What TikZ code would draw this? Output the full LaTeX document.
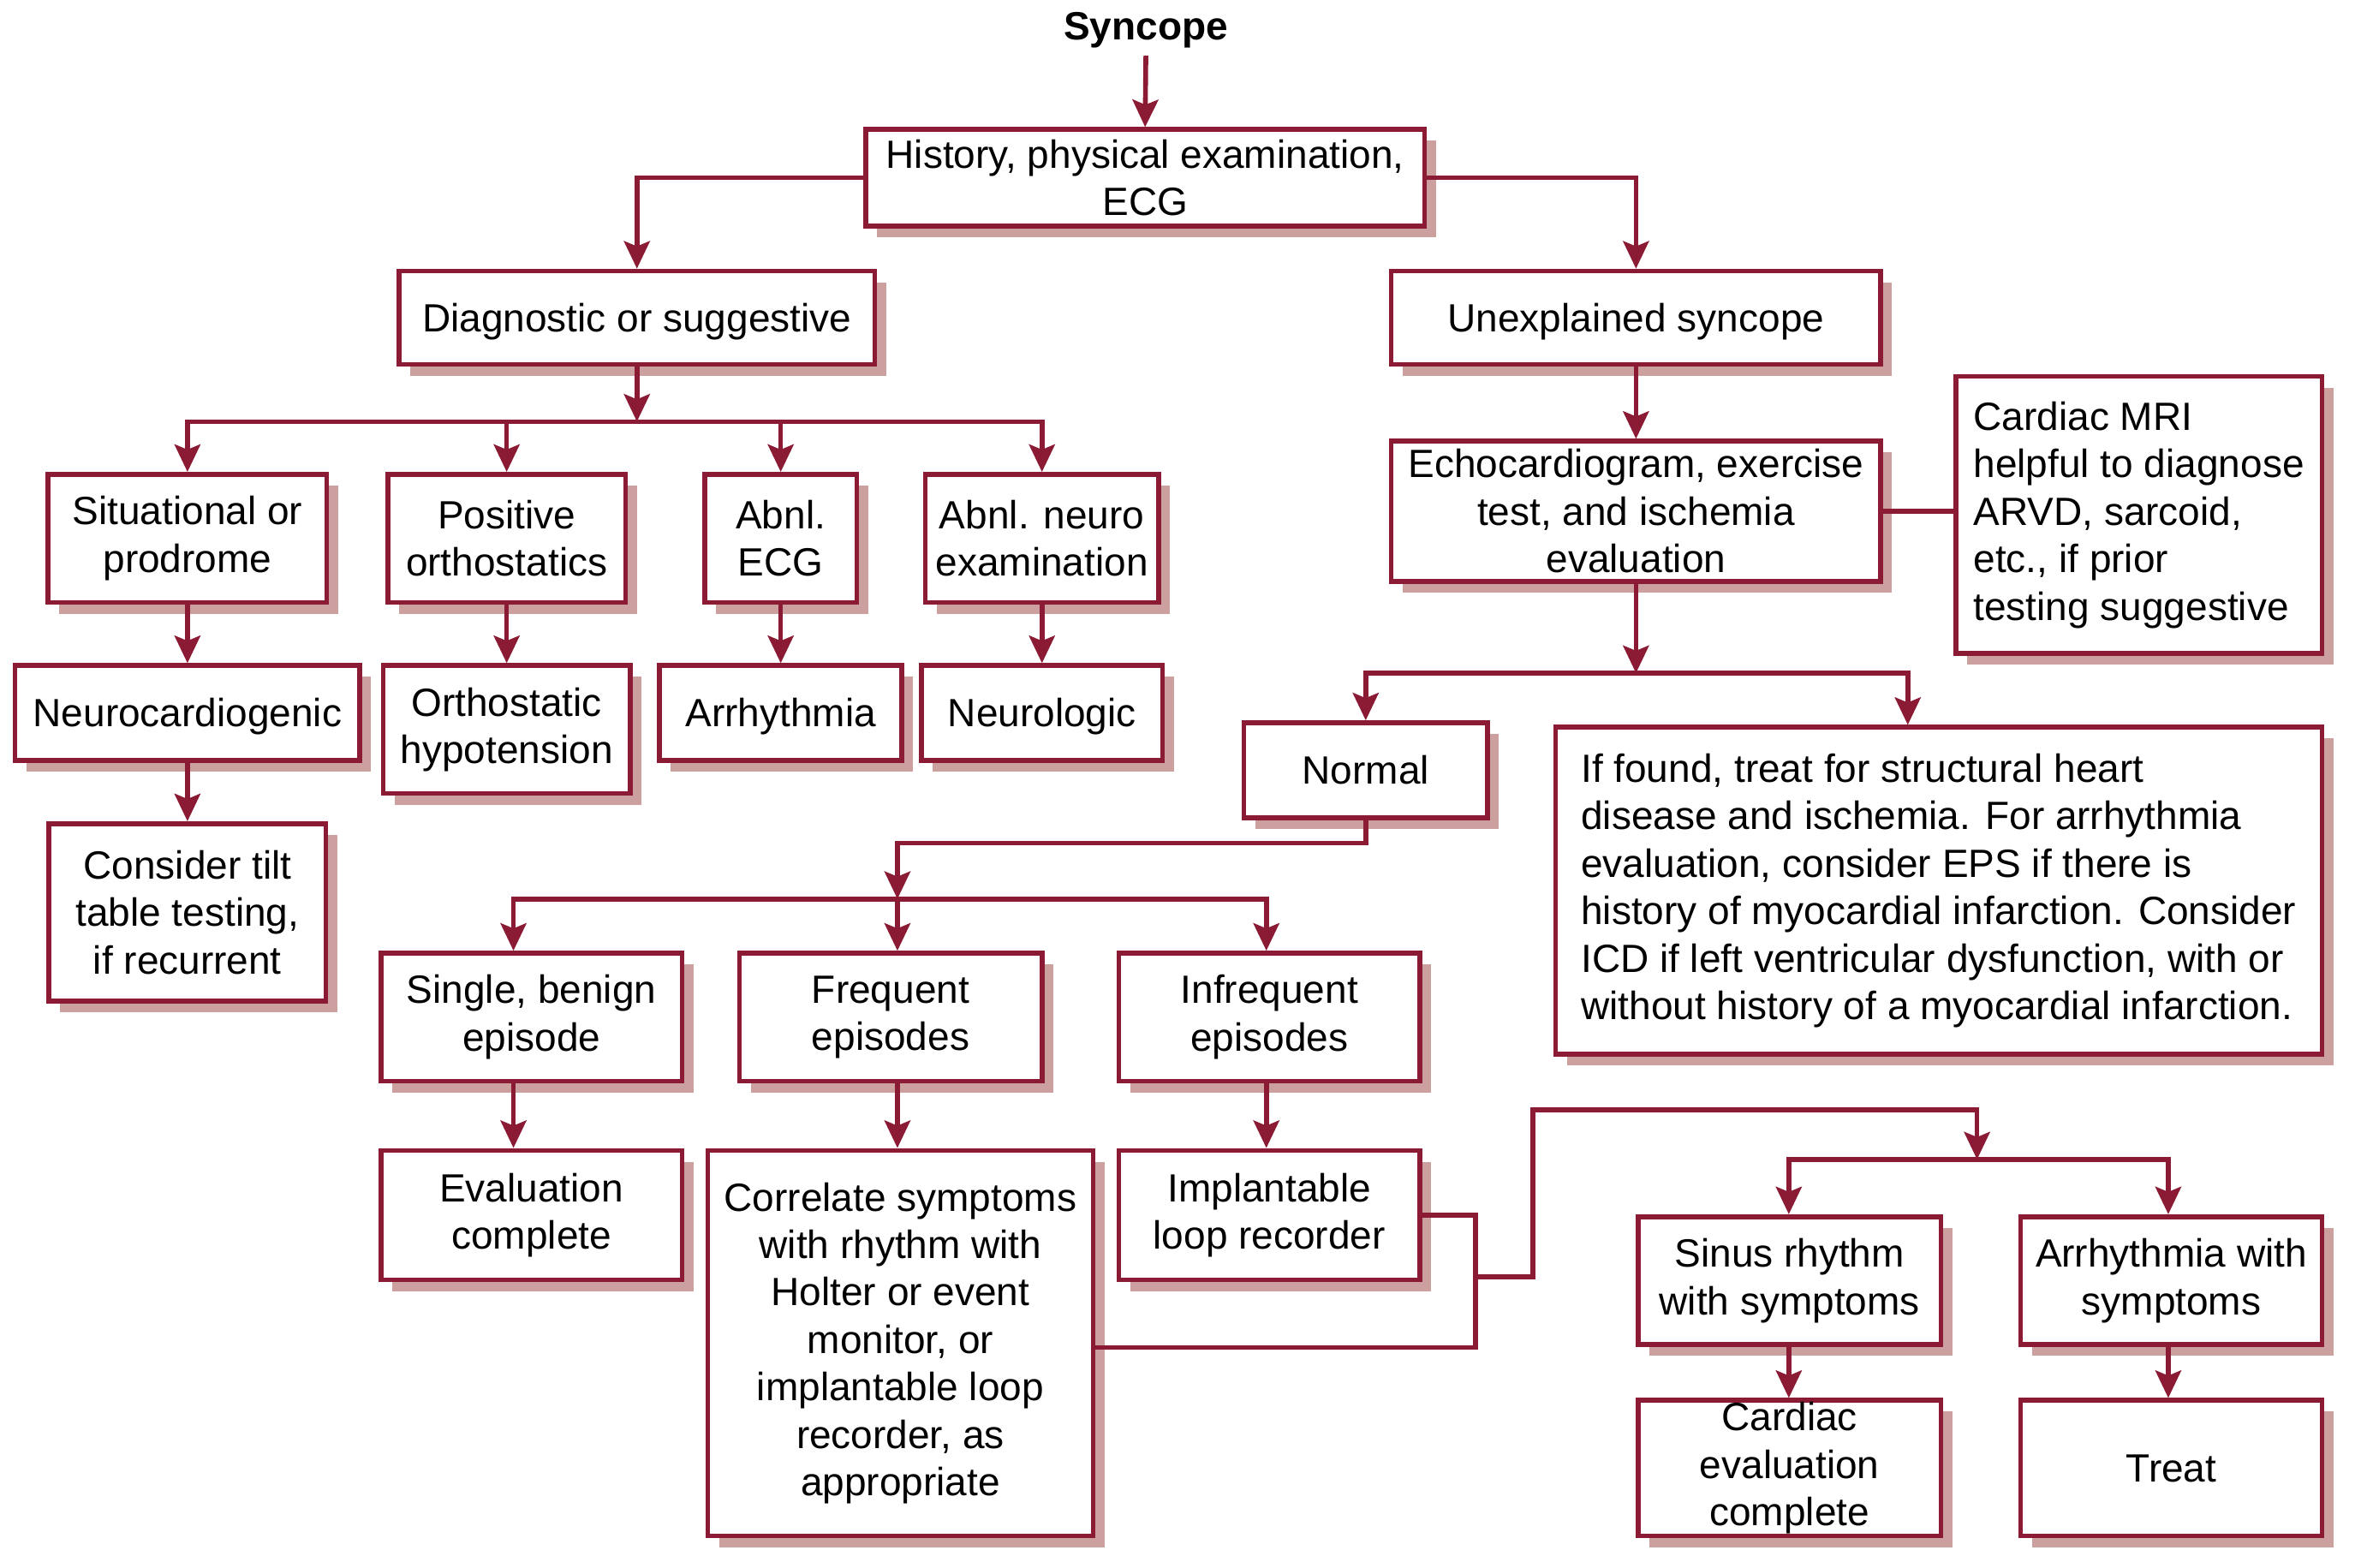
\documentclass[tikz,border=0pt]{standalone}
\usepackage{fontspec}
\setmainfont{Liberation Sans}
\usetikzlibrary{shadows,arrows.meta}
\definecolor{dred}{RGB}{139,26,52}
\definecolor{shd}{RGB}{205,160,160}
\begin{document}
\begin{tikzpicture}[x=0.4396pt,y=-0.4396pt,
  box/.style={draw=dred, line width=1.4pt, fill=white, align=center, inner sep=0pt,
    font=\fontsize{11.5}{13.85}\selectfont,
    drop shadow={shadow xshift=3.3pt, shadow yshift=-3.3pt, fill=shd, draw=none, opacity=1}},
  one/.style={text height=8.2pt, text depth=0pt},
  sz/.style 2 args={minimum width=#1*0.4396pt, minimum height=#2*0.4396pt},
  ln/.style={draw=dred, line width=1.4pt},
  arr/.style={ln, -{Stealth[length=8pt,width=7.5pt,inset=1.5pt]}}]
\useasboundingbox (0,0) rectangle (1568,1041);

\node[font=\bfseries\fontsize{11.5}{13.85}\selectfont, inner sep=2pt] (syn) at (761,20) {Syncope};
\node[box, sz={371}{64}] (hist) at (760.5,118) {History, physical examination,\\ECG};
\node[box, one, sz={316}{62}] (diag) at (423,211) {Diagnostic or suggestive};
\node[box, one, sz={325}{62}] (unexp) at (1086.5,211) {Unexplained syncope};

\node[box, sz={185}{85}] (sit) at (124.5,357.5) {Situational or\\prodrome};
\node[box, sz={158}{85}] (pos) at (336.5,357.5) {Positive\\orthostatics};
\node[box, sz={101}{85}] (aecg) at (518.5,357.5) {Abnl.\\ECG};
\node[box, sz={155}{85}] (aneuro) at (692,357.5) {Abnl. neuro\\examination};

\node[box, one, sz={229}{63}] (neurocard) at (124.5,473.5) {Neurocardiogenic};
\node[box, sz={164}{85}] (orth) at (336.5,484.5) {Orthostatic\\hypotension};
\node[box, one, sz={161}{63}] (arr) at (518.5,473.5) {Arrhythmia};
\node[box, one, sz={160}{63}] (neurol) at (692,473.5) {Neurologic};
\node[box, sz={184}{118}] (tilt) at (124.5,606) {Consider tilt\\table testing,\\if recurrent};

\node[box, sz={325}{93}] (echo) at (1086.5,339.5) {Echocardiogram, exercise\\test, and ischemia\\evaluation};
\node[box, sz={243}{184}, align=left] (mri) at (1420.5,342) {Cardiac MRI\\helpful to diagnose\\ARVD, sarcoid,\\etc., if prior\\testing suggestive};
\node[box, one, sz={162}{63}] (normal) at (907,511.5) {Normal};
\node[box, sz={509}{217}, align=left] (big) at (1287.5,591.5) {If found, treat for structural heart\\disease and ischemia. For arrhythmia\\evaluation, consider EPS if there is\\history of myocardial infarction. Consider\\ICD if left ventricular dysfunction, with or\\without history of a myocardial infarction.};

\node[box, sz={200}{85}] (single) at (353,675.5) {Single, benign\\episode};
\node[box, sz={201}{85}] (freq) at (591.5,675.5) {Frequent\\episodes};
\node[box, sz={200}{85}] (infreq) at (843,675.5) {Infrequent\\episodes};
\node[box, sz={200}{86}] (evalc) at (353,807) {Evaluation\\complete};
\node[box, sz={256}{256}] (corr) at (598,892) {Correlate symptoms\\with rhythm with\\Holter or event\\monitor, or\\implantable loop\\recorder, as\\appropriate};
\node[box, sz={200}{86}] (loop) at (843,807) {Implantable\\loop recorder};

\node[box, sz={201}{85}] (sinus) at (1188.5,850.5) {Sinus rhythm\\with symptoms};
\node[box, sz={200}{85}] (arrsym) at (1442,850.5) {Arrhythmia with\\symptoms};
\node[box, sz={201}{90}] (cardeval) at (1188.5,975) {Cardiac\\evaluation\\complete};
\node[box, one, sz={200}{90}] (treat) at (1442,975) {Treat};

% connectors
\draw[arr] (syn.south) -- (hist.north);
\draw[arr] (hist.west) -| (diag.north);
\draw[arr] (hist.east) -| (unexp.north);

\coordinate (b1) at (423,280);
\draw[arr] (diag.south) -- (b1);
\foreach \n in {sit,pos,aecg,aneuro} \draw[arr] (b1) -| (\n.north);
\foreach \a/\b in {sit/neurocard,neurocard/tilt,pos/orth,aecg/arr,aneuro/neurol}
  \draw[arr] (\a.south) -- (\b.north);

\draw[arr] (unexp.south) -- (echo.north);
\draw[ln] (echo.east) -- (mri.west |- echo.east);
\coordinate (b2) at (1086.5,447);
\coordinate (bigx) at (1267,0);
\draw[arr] (echo.south) -- (b2);
\draw[arr] (b2) -| (normal.north);
\draw[arr] (b2) -| (big.north -| bigx);

\coordinate (nb) at (596,560);
\coordinate (b3) at (596,597);
\draw[arr] (normal.south) |- (nb) -- (b3);
\coordinate (xs) at (341,0);
\coordinate (xf) at (596,0);
\coordinate (xi) at (841,0);
\draw[arr] (b3) -| (single.north -| xs);
\draw[arr] (b3) -- (freq.north -| xf);
\draw[arr] (b3) -| (infreq.north -| xi);
\draw[arr] (single.south -| xs) -- (evalc.north -| xs);
\draw[arr] (freq.south -| xf) -- (corr.north -| xf);
\draw[arr] (infreq.south -| xi) -- (loop.north -| xi);

\coordinate (jb) at (980,895);
\coordinate (jm) at (980,848);
\coordinate (jt) at (1018,737);
\coordinate (b4) at (1313,770);
\draw[ln] (loop.east) -| (jb) -- (corr.east |- jb);
\draw[arr] (jm) -| (jt) -| (b4);
\coordinate (xsr) at (1188,0);
\coordinate (xar) at (1440,0);
\draw[arr] (b4) -| (sinus.north -| xsr);
\draw[arr] (b4) -| (arrsym.north -| xar);
\draw[arr] (sinus.south -| xsr) -- (cardeval.north -| xsr);
\draw[arr] (arrsym.south -| xar) -- (treat.north -| xar);
\end{tikzpicture}
\end{document}
